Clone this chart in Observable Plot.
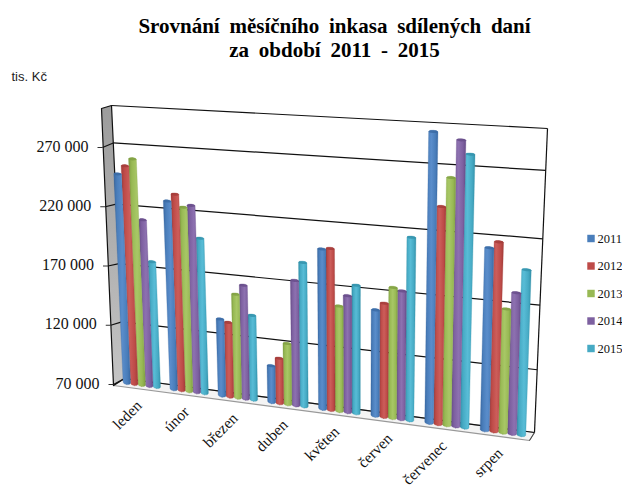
<!DOCTYPE html>
<html><head><meta charset="utf-8">
<script src="https://cdn.jsdelivr.net/npm/d3@7"></script>
<script src="https://cdn.jsdelivr.net/npm/@observablehq/plot@0.6"></script>
<style>
html,body{margin:0;padding:0;background:#fff}
#title{height:62px;width:622px;box-sizing:border-box;padding:14px 0 0 47px;text-align:center;font:bold 21px/24px "Liberation Serif",serif;color:#000;word-spacing:4.5px}
svg{display:block}
</style></head><body>
<div id="title">Srovnání měsíčního inkasa sdílených daní<br>za období 2011 - 2015</div>
<div id="chart"></div>
<script>
const categories = ["leden","únor","březen","duben","květen","červen","červenec","srpen"];
const years = ["2011","2012","2013","2014","2015"];
const v2011 = [247,228,135,101,200,156,295,212];
const v2012 = [254,234,133,108,201,162,240,217];
const v2013 = [260,224,157,121,156,175,262,167];
const v2014 = [211,226,165,173,165,173,290,180];
const v2015 = [177,200,141,188,174,215,280,198];
const series = [v2011,v2012,v2013,v2014,v2015];
const colors = ["#4a7ebb","#be4b48","#98b954","#7d60a0","#46aac4"];
const darks  = ["#3a69a3","#a33c39","#7f9f42","#664c88","#3391aa"];
const lights = ["#5a8dcb","#cc5d5a","#a8c766","#8d71b0","#58bcd6"];
const yTicks = [70000,120000,170000,220000,270000];
const yMax = 300000;
const top0 = 62; // height of the HTML title block

const wall = py => 70000 + (384 - py) * (200000 / 237);
function homography([x0,y0],[x1,y1],[x2,y2],[x3,y3]) {
  const dx1=x1-x2,dx2=x3-x2,sx=x0-x1+x2-x3,dy1=y1-y2,dy2=y3-y2,sy=y0-y1+y2-y3;
  const den=dx1*dy2-dx2*dy1,g=(sx*dy2-dx2*sy)/den,h=(dx1*sy-sx*dy1)/den;
  const a=x1-x0+g*x1,b=x3-x0+h*x3,d=y1-y0+g*y1,e=y3-y0+h*y3;
  return (u,t)=>{const w=g*u+h*t+1;return [(a*u+b*t+x0)/w,(d*u+e*t+y0)/w];};
}
const T = v => (v-70000)/(yMax-70000);
const back  = homography([124,378],[534,432],[547,128],[111,105]);
const plane = homography([118.5,381.5],[531.5,436],[542,129.5],[106,106.5]);
const frontX = v => 113 - (v-70000)*(11/200000);

const toXY = ([x,y]) => ({x, y: wall(y)});
const slot = 0.16, n = categories.length;

// rows of the bars in their perspective plane
function barRows(si, capOnly) {
  const rows = [];
  categories.forEach((c,i)=>{
    const v = series[si][i]*1000;
    const ul=(i+.5+(si-2.5)*slot)/n, ur=(i+.5+(si-1.5)*slot)/n, um=(ul+ur)/2;
    const add=(w,val,dy)=>{
      const a=plane(um+(ul-um)*w,T(val)), b=plane(um+(ur-um)*w,T(val));
      rows.push({id:c,x1:a[0],y1:wall(a[1]+dy),x2:b[0],y2:wall(b[1]+dy)});
    };
    const cap=[[0,1],[.55,.83],[.85,.53],[1,0]];
    if(capOnly){
      [...cap].reverse().forEach(([w,h])=>add(w,v,1-h*1.4));
      cap.forEach(([w,h])=>add(w,v,1+h*1.4));
    } else {
      cap.forEach(([w,h])=>add(w,70000,h*2));
      [...cap].reverse().forEach(([w,h])=>add(w,v,1-h*1.4));
    }
  });
  return rows;
}

const gridBack = [...yTicks,yMax].map(v=>({v,a:toXY(back(0,T(v))),b:toXY(back(1,T(v)))}));
const gridSide = yTicks.map(v=>({v,fx:frontX(v),a:toXY(back(0,T(v)))}));
const wallPoly = [{x:101,y:wall(108)},{x:111,y:wall(105)},{x:124,y:wall(378)},{x:113,y:wall(385)},{x:101,y:wall(108)}];
const floorPoly = [{x:113,y:wall(385)},{x:124,y:wall(378)},{x:534,y:wall(432)},{x:529,y:wall(440)},{x:113,y:wall(385)}];
const fmt = v => d3.format(",")(v).replace(/,/g," ");

const barMarks = [];
for (let s=4;s>=0;s--) {
  barMarks.push(Plot.area(barRows(s),{x1:"x1",y1:"y1",x2:"x2",y2:"y2",z:"id",fill:`url(#bar${s})`,stroke:darks[s],strokeWidth:0.3,curve:"linear"}));
  barMarks.push(Plot.area(barRows(s,true),{x1:"x1",y1:"y1",x2:"x2",y2:"y2",z:"id",fill:darks[s],fillOpacity:0.8,curve:"linear"}));
}

const chart = Plot.plot({
  width:622,height:425,margin:0,
  x:{domain:[0,622],range:[0,622],axis:null},
  y:{domain:[70000,270000],range:[384-top0,147-top0],axis:null},
  color:{domain:years,range:colors},
  style:{background:"#fff",overflow:"visible"},
  marks:[
    Plot.line(floorPoly,{x:"x",y:"y",fill:"#f4f4f4",stroke:"#999",strokeWidth:1.2}),
    Plot.line(wallPoly,{x:"x",y:"y",fill:"url(#sideWall)",stroke:"#111",strokeWidth:1.2}),
    Plot.link(gridBack,{x1:d=>d.a.x,y1:d=>d.a.y,x2:d=>d.b.x,y2:d=>d.b.y,stroke:"#111",strokeWidth:1.2}),
    Plot.link(gridSide,{x1:"fx",y1:"v",x2:d=>d.a.x,y2:d=>d.a.y,stroke:"#111",strokeWidth:1.2}),
    Plot.link(gridSide,{x1:d=>d.fx-5,y1:"v",x2:"fx",y2:"v",stroke:"#333",strokeWidth:1}),
    Plot.link([0],{x1:()=>back(1,1)[0],y1:()=>wall(back(1,1)[1]),x2:()=>back(1,0)[0],y2:()=>wall(back(1,0)[1]),stroke:"#111",strokeWidth:1.2}),
    Plot.link([0],{x1:()=>534,y1:()=>wall(432),x2:()=>529,y2:()=>wall(440),stroke:"#444",strokeWidth:1}),
    ...barMarks,
    Plot.text(yTicks,{x:v=>frontX(v)-14,y:v=>v,dy:-1,text:fmt,textAnchor:"end",fontFamily:"Liberation Serif",fontSize:16,fill:"#111"}),
    Plot.text(categories,{
      x:(c,i)=>plane((i+.5)/n,0)[0]-3,
      y:(c,i)=>wall(plane((i+.5)/n,0)[1]+18),
      text:c=>c,rotate:-45,textAnchor:"end",fontFamily:"Liberation Serif",fontSize:15.5,fill:"#111"}),
    Plot.dot(years,{x:()=>590.5,y:(d,i)=>wall(238+i*27.5),fill:d=>d,symbol:"square",r:4.2}),
    Plot.text(years,{x:()=>597,y:(d,i)=>wall(238+i*27.5),text:d=>d,textAnchor:"start",fontFamily:"Liberation Serif",fontSize:12.5,fill:"#111"}),
    Plot.text(["tis. Kč"],{x:()=>11,y:()=>wall(76),text:d=>d,textAnchor:"start",fontFamily:"Liberation Sans",fontSize:13,fill:"#222"})
  ]
});
const defs = colors.map((c,s)=>`<linearGradient id="bar${s}" x1="0" x2="1" y1="0" y2="0">
<stop offset="0" stop-color="${darks[s]}"/><stop offset="0.2" stop-color="${c}"/><stop offset="0.5" stop-color="${lights[s]}"/><stop offset="0.8" stop-color="${c}"/><stop offset="1" stop-color="${darks[s]}"/></linearGradient>`).join("")
 + `<linearGradient id="sideWall" x1="0" x2="0" y1="0" y2="1"><stop offset="0" stop-color="#9c9c9c"/><stop offset="1" stop-color="#c4c4c4"/></linearGradient>`;
chart.insertAdjacentHTML("afterbegin",`<defs>${defs}</defs>`);
document.getElementById("chart").append(chart);
</script>
</body></html>
